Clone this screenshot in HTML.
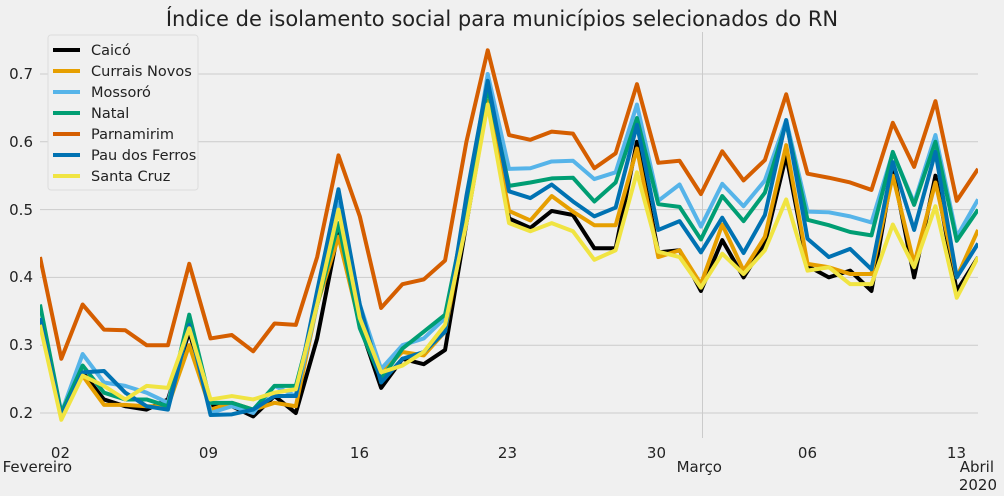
<!DOCTYPE html>
<html><head><meta charset="utf-8"><style>
body{margin:0;background:#f0f0f0;}
svg{display:block;font-family:"DejaVu Sans","Liberation Sans",sans-serif;}
polyline{vector-effect:non-scaling-stroke;}
</style></head><body>
<svg width="1004" height="496" viewBox="0 0 1004 496">
<rect width="1004" height="496" fill="#f0f0f0"/>
<defs><clipPath id="c"><rect x="40" y="32" width="938" height="406"/></clipPath></defs>
<g stroke="#cbcbcb" stroke-width="1">
<line x1="40" x2="978" y1="413" y2="413"/><line x1="40" x2="978" y1="345.2" y2="345.2"/>
<line x1="40" x2="978" y1="277.4" y2="277.4"/><line x1="40" x2="978" y1="209.6" y2="209.6"/>
<line x1="40" x2="978" y1="141.8" y2="141.8"/><line x1="40" x2="978" y1="74" y2="74"/>
<line x1="702.5" x2="702.5" y1="32" y2="438"/>
</g>
<g font-size="15" fill="#222" text-anchor="end">
<text x="33" y="418">0.2</text><text x="33" y="350">0.3</text><text x="33" y="282">0.4</text>
<text x="33" y="215">0.5</text><text x="33" y="147">0.6</text><text x="33" y="79">0.7</text>
<text x="70" y="458">02</text><text x="218" y="458">09</text><text x="369" y="458">16</text>
<text x="517" y="458">23</text><text x="666" y="458">30</text><text x="817" y="458">06</text>
<text x="966" y="458">13</text>
<text x="72" y="472">Fevereiro</text><text x="722" y="472">Março</text><text x="994" y="472">Abril</text>
<text x="997" y="490">2020</text>
</g>
<text x="502" y="26" font-size="21" text-anchor="middle" fill="#222">Índice de isolamento social para municípios selecionados do RN</text>
<g clip-path="url(#c)">
<g transform="matrix(21.32 0 0 -678 40 548.6)" fill="none" stroke-width="4" stroke-linejoin="round">
<polyline stroke="#000" points="0,0.34 1,0.195 2,0.26 3,0.22 4,0.21 5,0.205 6,0.22 7,0.32 8,0.21 9,0.21 10,0.195 11,0.225 12,0.2 13,0.31 14,0.47 15,0.33 16,0.237 17,0.28 18,0.272 19,0.293 20,0.48 21,0.66 22,0.487 23,0.473 24,0.498 25,0.492 26,0.443 27,0.443 28,0.6 29,0.437 30,0.44 31,0.38 32,0.455 33,0.4 34,0.45 35,0.58 36,0.417 37,0.4 38,0.41 39,0.38 40,0.56 41,0.4 42,0.55 43,0.38 44,0.43"/>
<polyline stroke="#E69F00" points="0,0.34 1,0.195 2,0.255 3,0.212 4,0.212 5,0.21 6,0.21 7,0.30 8,0.205 9,0.215 10,0.205 11,0.215 12,0.21 13,0.36 14,0.46 15,0.33 16,0.26 17,0.29 18,0.285 19,0.32 20,0.49 21,0.66 22,0.498 23,0.484 24,0.52 25,0.497 26,0.477 27,0.477 28,0.59 29,0.43 30,0.44 31,0.39 32,0.478 33,0.41 34,0.46 35,0.595 36,0.42 37,0.415 38,0.405 39,0.405 40,0.55 41,0.42 42,0.54 43,0.40 44,0.47"/>
<polyline stroke="#56B4E9" points="0,0.34 1,0.20 2,0.287 3,0.245 4,0.24 5,0.23 6,0.215 7,0.34 8,0.20 9,0.21 10,0.20 11,0.24 12,0.225 13,0.36 14,0.51 15,0.36 16,0.265 17,0.30 18,0.31 19,0.34 20,0.50 21,0.70 22,0.56 23,0.561 24,0.571 25,0.572 26,0.545 27,0.555 28,0.655 29,0.513 30,0.537 31,0.475 32,0.538 33,0.505 34,0.543 35,0.632 36,0.497 37,0.496 38,0.49 39,0.481 40,0.584 41,0.51 42,0.61 43,0.46 44,0.515"/>
<polyline stroke="#009E73" points="0,0.36 1,0.20 2,0.27 3,0.23 4,0.22 5,0.22 6,0.21 7,0.345 8,0.215 9,0.215 10,0.205 11,0.24 12,0.24 13,0.36 14,0.48 15,0.325 16,0.25 17,0.295 18,0.32 19,0.345 20,0.50 21,0.68 22,0.535 23,0.54 24,0.546 25,0.547 26,0.512 27,0.54 28,0.635 29,0.508 30,0.504 31,0.456 32,0.52 33,0.483 34,0.525 35,0.628 36,0.485 37,0.477 38,0.467 39,0.462 40,0.585 41,0.507 42,0.60 43,0.454 44,0.50"/>
<polyline stroke="#D55E00" points="0,0.43 1,0.28 2,0.36 3,0.323 4,0.322 5,0.30 6,0.30 7,0.42 8,0.31 9,0.315 10,0.291 11,0.332 12,0.33 13,0.43 14,0.58 15,0.49 16,0.355 17,0.39 18,0.397 19,0.425 20,0.60 21,0.735 22,0.61 23,0.603 24,0.615 25,0.612 26,0.561 27,0.583 28,0.685 29,0.569 30,0.572 31,0.523 32,0.586 33,0.543 34,0.573 35,0.67 36,0.553 37,0.547 38,0.54 39,0.529 40,0.628 41,0.563 42,0.66 43,0.513 44,0.56"/>
<polyline stroke="#0072B2" points="0,0.34 1,0.195 2,0.26 3,0.262 4,0.23 5,0.21 6,0.205 7,0.33 8,0.197 9,0.198 10,0.205 11,0.225 12,0.225 13,0.38 14,0.53 15,0.36 16,0.245 17,0.28 18,0.29 19,0.32 20,0.52 21,0.69 22,0.527 23,0.517 24,0.537 25,0.512 26,0.49 27,0.503 28,0.625 29,0.47 30,0.483 31,0.437 32,0.488 33,0.436 34,0.492 35,0.632 36,0.457 37,0.43 38,0.442 39,0.412 40,0.57 41,0.47 42,0.585 43,0.40 44,0.45"/>
<polyline stroke="#F0E442" points="0,0.33 1,0.19 2,0.255 3,0.24 4,0.22 5,0.24 6,0.237 7,0.325 8,0.22 9,0.225 10,0.22 11,0.23 12,0.235 13,0.36 14,0.50 15,0.34 16,0.26 17,0.27 18,0.29 19,0.33 20,0.48 21,0.655 22,0.48 23,0.468 24,0.48 25,0.468 26,0.426 27,0.44 28,0.555 29,0.438 30,0.43 31,0.385 32,0.435 33,0.405 34,0.44 35,0.515 36,0.41 37,0.415 38,0.39 39,0.39 40,0.478 41,0.415 42,0.505 43,0.37 44,0.43"/>
</g></g>
<g>
<rect x="48" y="35" width="150" height="155" rx="3" fill="#f0f0f0" stroke="#ddd"/>
<g stroke-width="4">
<line x1="53" x2="80" y1="50" y2="50" stroke="#000"/>
<line x1="53" x2="80" y1="71" y2="71" stroke="#E69F00"/>
<line x1="53" x2="80" y1="92" y2="92" stroke="#56B4E9"/>
<line x1="53" x2="80" y1="113" y2="113" stroke="#009E73"/>
<line x1="53" x2="80" y1="134" y2="134" stroke="#D55E00"/>
<line x1="53" x2="80" y1="155" y2="155" stroke="#0072B2"/>
<line x1="53" x2="80" y1="176" y2="176" stroke="#F0E442"/>
</g>
<g font-size="14.5" fill="#222">
<text x="91" y="55">Caicó</text><text x="91" y="76">Currais Novos</text><text x="91" y="97">Mossoró</text>
<text x="91" y="118">Natal</text><text x="91" y="139">Parnamirim</text><text x="91" y="160">Pau dos Ferros</text>
<text x="91" y="181">Santa Cruz</text>
</g></g>
</svg>
</body></html>
